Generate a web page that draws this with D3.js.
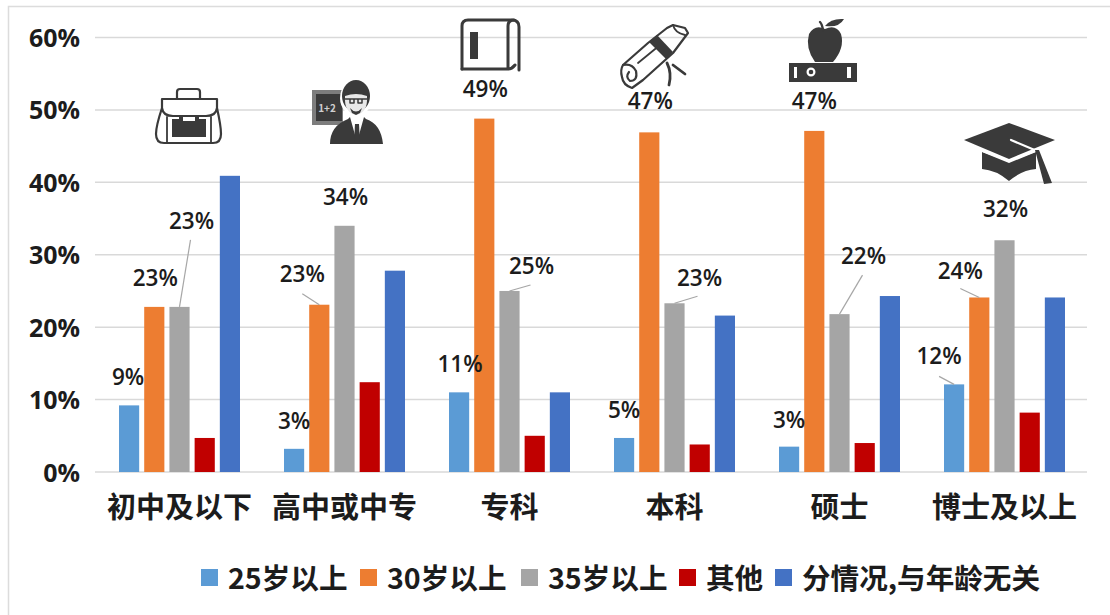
<!DOCTYPE html>
<html>
<head>
<meta charset="utf-8">
<script src="https://cdn.jsdelivr.net/npm/d3@7/dist/d3.min.js"></script>
<style>
  html, body { margin: 0; padding: 0; background: #fff; }
  svg { display: block; }
  text { font-family: "Noto Sans CJK SC", sans-serif; fill: #1c1c1c; }
</style>
</head>
<body>
<div id="chart"></div>
<script>
// Values (percent)
const categories = ["初中及以下", "高中或中专", "专科", "本科", "硕士", "博士及以上"];
const seriesNames = ["25岁以上", "30岁以上", "35岁以上", "其他", "分情况,与年龄无关"];
const age25 = [9.2, 3.2, 11, 4.7, 3.5, 12.1];
const age30 = [22.8, 23.1, 48.8, 46.9, 47.1, 24.1];
const age35 = [22.8, 34, 25, 23.3, 21.8, 32];
const other = [4.7, 12.4, 5, 3.8, 4, 8.2];
const noAge = [40.9, 27.8, 11, 21.6, 24.3, 24.1];
const allSeries = [age25, age30, age35, other, noAge];
const yTicks = [0, 10, 20, 30, 40, 50, 60];
const colors = ["#5b9bd5", "#ed7d31", "#a5a5a5", "#c00000", "#4472c4"];

// Printed labels, only the first three series carry them
const labels25 = ["9%", "3%", "11%", "5%", "3%", "12%"];
const labels30 = ["23%", "23%", "49%", "47%", "47%", "24%"];
const labels35 = ["23%", "34%", "25%", "23%", "22%", "32%"];
const allLabels = [labels25, labels30, labels35];

// Layout: label offsets from the top centre of their bar, [dx, dy], by series then category
const labelOffsets = [
  [[-1, -28], [0, -28], [1, -28], [0, -28], [0, -27], [-15, -28]],
  [[1, -29], [-17, -31], [1, -30], [1, -31], [0, -30], [-19, -27]],
  [[12, -86], [1, -29], [22, -25], [25, -25], [24, -58], [1, -31]],
];
// Leader lines: series, category, far end relative to the bar top
const leaders = [
  [2, 0, 11, -67], [1, 1, -17, -11], [2, 2, 21, -6], [2, 3, 23, -7],
  [2, 4, 23, -39], [1, 5, -19, -9], [0, 5, -15, -8],
];
const legendSwatchX = [201, 360, 521, 679, 775];

const width = 1110, height = 615;
const plotLeft = 95, plotRight = 1087;
const svg = d3.select("#chart").append("svg").attr("width", width).attr("height", height);

// Frame of the screenshot: top and left edges only
svg.append("path").attr("d", `M${width},6.5H8.5V${height}`)
  .attr("fill", "none").attr("stroke", "#dcdcdc").attr("stroke-width", 1.5);

const x0 = d3.scaleBand().domain(d3.range(categories.length)).range([plotLeft + 2, plotRight]);
const x1 = d3.scaleBand().domain(d3.range(allSeries.length)).range([22, x0.bandwidth() - 22]).paddingInner(0.2);
const y = d3.scaleLinear().domain([0, 60]).range([472, 37.5]);

// Gridlines
svg.append("g").selectAll("line").data(yTicks).join("line")
  .attr("x1", plotLeft).attr("x2", plotRight)
  .attr("y1", (d) => y(d)).attr("y2", (d) => y(d))
  .attr("stroke", "#d9d9d9").attr("stroke-width", 1.5);

// Y axis labels
const yAxis = svg.append("g").attr("transform", `translate(${plotLeft - 15},0)`)
  .call(d3.axisLeft(y).tickValues(yTicks).tickSize(0).tickFormat((d) => d + "%"));
yAxis.select(".domain").remove();
yAxis.selectAll("text").attr("font-size", 25).attr("font-weight", 700)
  .style("font-family", '"Open Sans", sans-serif').attr("dy", "0.36em").attr("x", 0);

// Category labels
const xAxis = svg.append("g").attr("transform", "translate(0,472)")
  .call(d3.axisBottom(x0).tickSize(0).tickFormat((i) => categories[i]));
xAxis.select(".domain").remove();
xAxis.selectAll("text").attr("font-size", 29).attr("font-weight", 700).attr("y", 36).attr("dy", "0.36em");

// Bars
const barX = (s, g) => x0(g) + x1(s);
allSeries.forEach((values, s) => {
  svg.append("g").selectAll("rect").data(values).join("rect")
    .attr("x", (d, g) => barX(s, g))
    .attr("width", x1.bandwidth())
    .attr("y", (d) => y(d))
    .attr("height", (d) => y(0) - y(d))
    .attr("fill", colors[s]);
});

// Leader lines
svg.append("g").selectAll("line").data(leaders).join("line")
  .attr("x1", (d) => barX(d[0], d[1]) + x1.bandwidth() / 2)
  .attr("y1", (d) => y(allSeries[d[0]][d[1]]))
  .attr("x2", (d) => barX(d[0], d[1]) + x1.bandwidth() / 2 + d[2])
  .attr("y2", (d) => y(allSeries[d[0]][d[1]]) + d[3])
  .attr("stroke", "#a6a6a6").attr("stroke-width", 1.2);

// Data labels
allLabels.forEach((texts, s) => {
  svg.append("g").selectAll("text").data(texts).join("text")
    .attr("x", (d, g) => barX(s, g) + x1.bandwidth() / 2 + labelOffsets[s][g][0])
    .attr("y", (d, g) => y(allSeries[s][g]) + labelOffsets[s][g][1])
    .attr("dy", "0.36em")
    .attr("text-anchor", "middle")
    .attr("font-size", 22.5)
    .attr("font-weight", 600)
    .style("font-family", '"Open Sans", sans-serif')
    .text((d) => d);
});

// Legend
const legend = svg.append("g");
seriesNames.forEach((name, i) => {
  legend.append("rect").attr("x", legendSwatchX[i]).attr("y", 569)
    .attr("width", 17).attr("height", 17).attr("fill", colors[i]);
  legend.append("text").attr("x", legendSwatchX[i] + 27).attr("y", 579)
    .attr("dy", "0.36em").attr("font-size", 28.6).attr("font-weight", 700).text(name);
});

// Icons above the groups, drawn by hand in local coordinates
const ink = "#3a3a3a";
function icon(px, py) {
  return svg.append("g").attr("transform", `translate(${px},${py})`);
}
function outline(g, d, w, color) {
  g.append("path").attr("d", d).attr("fill", "none").attr("stroke", color || ink)
    .attr("stroke-width", w || 2.2).attr("stroke-linejoin", "round").attr("stroke-linecap", "round");
}
function solid(g, d, fill) {
  g.append("path").attr("d", d).attr("fill", fill || ink);
}

// Briefcase
const bag = icon(155, 88);
solid(bag, "M7,12H61V50H7Z", "#fff");
outline(bag, "M22,11V4Q22,1 25,1H42Q45,1 45,4V11");
outline(bag, "M7,11H62V20Q61,28 51,28H18Q8,28 7,20Z");
outline(bag, "M7,20Q1,38 1,46Q1,55 9,55H58Q66,55 66,46Q66,38 62,20");
outline(bag, "M12,29V54M56,29V54", 1.8);
solid(bag, "M17,31H24V27H28V33H40V27H44V31H51V49H17Z");

// Teacher at a blackboard
const teacher = icon(312, 80);
solid(teacher, "M0,10H31V45H0Z", "#7d7d7d");
solid(teacher, "M4,14H30V41H4Z");
teacher.append("text").attr("x", 15).attr("y", 32).attr("text-anchor", "middle")
  .attr("font-size", 10).attr("font-weight", 700).style("fill", "#cfcfcf").text("1+2");
teacher.append("ellipse").attr("cx", 44).attr("cy", 18).attr("rx", 16).attr("ry", 18).attr("fill", "#fff");
teacher.append("ellipse").attr("cx", 44).attr("cy", 16).attr("rx", 14).attr("ry", 16).attr("fill", ink);
solid(teacher, "M33,16Q44,12 55,16Q56,33 44,35Q32,33 33,16Z", "#e8e8e8");
outline(teacher, "M33,19H55M38,19V23H42V19M46,19V23H50V19", 1.5);
solid(teacher, "M38,28Q44,35 50,28L48,33L44,35L40,33Z");
solid(teacher, "M18,64Q18,46 36,39L38,37L45,62L52,37L54,39Q69,44 71,64Z");
solid(teacher, "M43,44H47L48,62H42Z");

// Book
const book = icon(460, 18);
outline(book, "M2,51V8Q2,2 8,2H52Q59,2 59,9V52", 3);
outline(book, "M2,51H48M48,51V8Q48,2 54,2M48,51Q52,51 55,47", 3);
solid(book, "M10,14H18V41H10Z");

// Diploma scroll
const scroll = icon(620, 25);
outline(scroll, "M3,40L28,18L47,3L53,0L65,3L68,8L53,28L23,55L12,63Q3,60 2,52Q0,45 3,40Z");
outline(scroll, "M3,40Q12,38 16,46Q18,56 10,56Q5,52 9,47");
outline(scroll, "M18,38L40,20", 1.8);
outline(scroll, "M53,0Q55,8 65,10", 1.8);
solid(scroll, "M29,17L37,10L53,27L46,34Z");
outline(scroll, "M47,38Q52,48 49,60", 2.8);
outline(scroll, "M53,40L65,49", 2.8);

// Apple on books
const apple = icon(789, 18);
solid(apple, "M36,11Q47,6 52,16Q56,30 44,44H26Q16,30 20,16Q26,6 36,11Z");
outline(apple, "M34,12Q33,6 31,4", 2.4);
solid(apple, "M36,8Q42,0 55,1Q50,10 36,8Z");
solid(apple, "M0,45H68V64H0Z");
solid(apple, "M5,49H8V60H5ZM58,49H62V60H58Z", "#fff");
apple.append("circle").attr("cx", 22).attr("cy", 54).attr("r", 3.4)
  .attr("fill", ink).attr("stroke", "#fff").attr("stroke-width", 2.2);

// Graduation cap
const cap = icon(964, 123);
solid(cap, "M0,17L45,0L91,17L45,36Z");
solid(cap, "M18,29L45,40L72,29V46Q58,47 45,58Q32,47 18,46Z");
outline(cap, "M47,17L73,28", 2.2, "#fff");
outline(cap, "M18,28L45,38L72,28", 1.6, "#fff");
solid(cap, "M71,27L75,27L88,60L80,61Z");
</script>
</body>
</html>
